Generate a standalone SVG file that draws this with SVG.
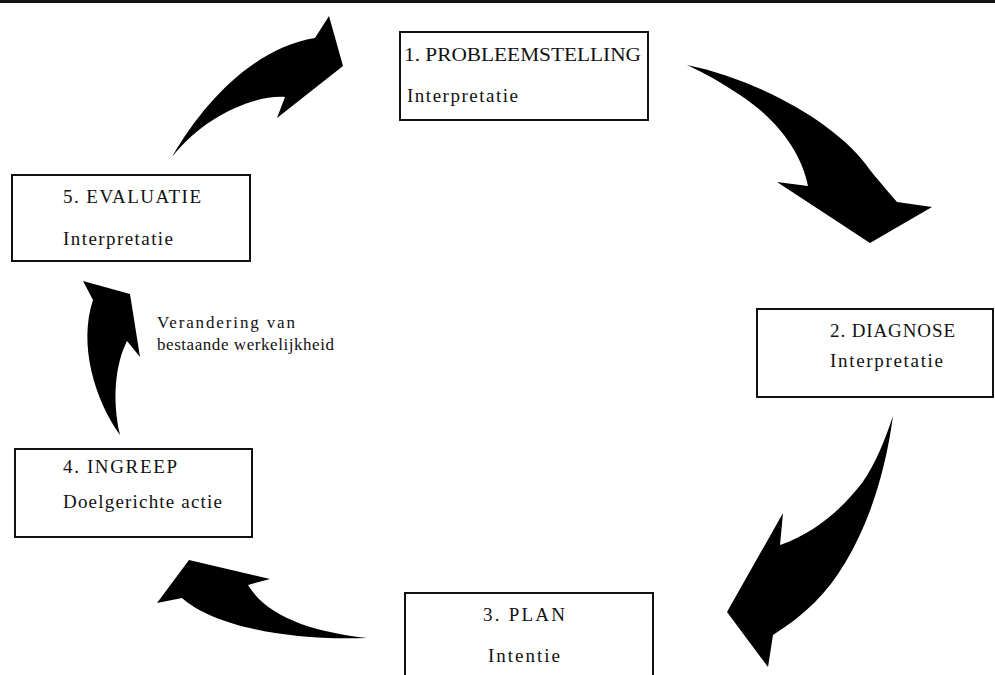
<svg xmlns="http://www.w3.org/2000/svg" width="995" height="675" viewBox="0 0 995 675">
<style>
.box{fill:#fff;stroke:#111;stroke-width:2}
.t{font-family:"Liberation Serif","Times New Roman",serif;font-size:19px;fill:#111}
.s{font-family:"Liberation Serif","Times New Roman",serif;font-size:17px;fill:#111}
.arr{fill:#000;stroke:none}
</style>
<rect x="0" y="0" width="995" height="3" fill="#111"/>
<g id="connectors">
<path id="arrowA" class="arr" d="M172,157 C205,100 255,48 315,38 L329,16 L343,66 L277,118 L285,97 C255,95 205,115 172,157 Z"/>
<path id="arrowB" class="arr" d="M687,65 C760,80 840,125 870,170 C882,185 891,195 897,202 L932,207 L870,243 L777,182 L808,186 C803,160 785,125 740,95 C722,83 705,73 687,65 Z"/>
<path id="arrowC" class="arr" d="M893,416 C885,475 868,525 845,563 C828,592 805,615 773,635 L768,667 L727,612 L783,513 L780,545 C818,532 845,505 862,483 C875,465 885,440 893,416 Z"/>
<path id="arrowD" class="arr" d="M367,638 C315,632 268,618 248,585 L270,579 L189,560 L157,603 L182,598 C212,625 285,641 367,638 Z"/>
<path id="arrowE" class="arr" d="M120,435 C95,400 78,345 93,300 L83,281 L130,294 L140,357 L127,341 C115,365 112,400 120,435 Z"/>
</g>
<g id="node1">
<rect class="box" x="400" y="32" width="248" height="88"/>
<text class="t" x="404" y="61" textLength="237" lengthAdjust="spacingAndGlyphs">1. PROBLEEMSTELLING</text>
<text class="t" x="407" y="102" textLength="111" lengthAdjust="spacing">Interpretatie</text>
</g>
<g id="node2">
<rect class="box" x="757" y="309" width="236" height="88"/>
<text class="t" x="830" y="337" textLength="125" lengthAdjust="spacing">2. DIAGNOSE</text>
<text class="t" x="830" y="367" textLength="113" lengthAdjust="spacing">Interpretatie</text>
</g>
<g id="node3">
<rect class="box" x="405" y="593" width="248" height="90"/>
<text class="t" x="483" y="621" textLength="82" lengthAdjust="spacing">3. PLAN</text>
<text class="t" x="488" y="662" textLength="72" lengthAdjust="spacing">Intentie</text>
</g>
<g id="node4">
<rect class="box" x="15" y="449" width="237" height="88"/>
<text class="t" x="63" y="473" textLength="114" lengthAdjust="spacing">4. INGREEP</text>
<text class="t" x="63" y="508" textLength="159" lengthAdjust="spacing">Doelgerichte actie</text>
</g>
<g id="node5">
<rect class="box" x="12" y="175" width="238" height="86"/>
<text class="t" x="63" y="203" textLength="138" lengthAdjust="spacing">5. EVALUATIE</text>
<text class="t" x="63" y="245" textLength="110" lengthAdjust="spacing">Interpretatie</text>
</g>
<g id="label">
<text class="s" x="157" y="328" textLength="138" lengthAdjust="spacing">Verandering van</text>
<text class="s" x="157" y="350" textLength="177" lengthAdjust="spacing">bestaande werkelijkheid</text>
</g>
</svg>
